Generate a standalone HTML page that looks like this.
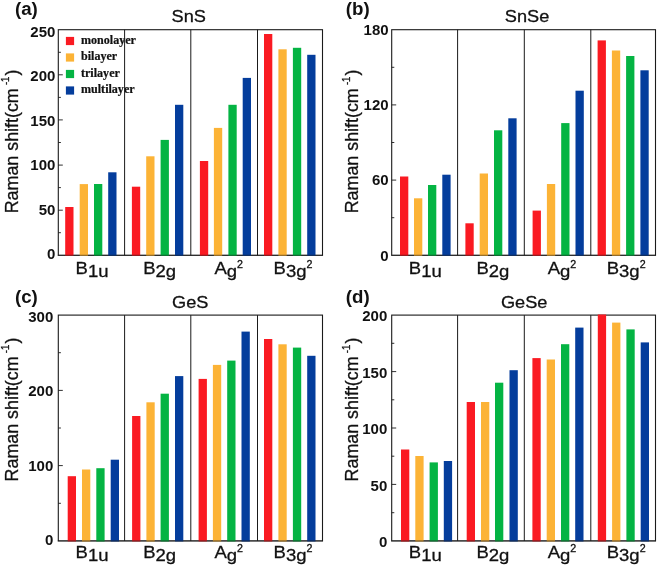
<!DOCTYPE html>
<html lang="en"><head><meta charset="utf-8"><title>Raman shift of SnS, SnSe, GeS, GeSe</title>
<style>
html,body{margin:0;padding:0;background:#fff;}
body{width:658px;height:566px;overflow:hidden;}
svg{display:block;will-change:transform;}
text{font-family:"Liberation Sans",Arial,Helvetica,sans-serif;fill:#111;}
.tag{font-weight:bold;font-size:18.7px;}
.title{font-size:17px;text-anchor:middle;}
.tick{font-weight:bold;font-size:15px;text-anchor:end;}
.yl{font-size:18.5px;}
.xl{font-size:17.3px;}
.xl,.title,.yl{stroke:#111;stroke-width:0.3px;}
.lg{font-family:"Liberation Serif","Times New Roman",serif;font-weight:bold;font-size:11.5px;stroke:#111;stroke-width:0.2px;}
</style></head><body>
<svg width="658" height="566" viewBox="0 0 658 566">
<rect width="658" height="566" fill="#fff"/>
<g><!-- panel (a) SnS -->
<rect x="58.3" y="29.7" width="264.2" height="225.6" fill="none" stroke="#1a1a1a" stroke-width="1.1"/>
<rect x="65.2" y="207.0" width="8.3" height="48.83" fill="#fa1a22"/>
<rect x="79.7" y="184.1" width="8.3" height="71.75" fill="#fcb336"/>
<rect x="94.0" y="184.0" width="8.3" height="71.84" fill="#04b443"/>
<rect x="108.2" y="172.3" width="8.3" height="83.57" fill="#043d9c"/>
<rect x="131.9" y="186.7" width="8.3" height="69.13" fill="#fa1a22"/>
<rect x="146.2" y="156.3" width="8.3" height="99.54" fill="#fcb336"/>
<rect x="160.6" y="139.9" width="8.3" height="115.97" fill="#04b443"/>
<rect x="175.0" y="104.8" width="8.3" height="151.07" fill="#043d9c"/>
<rect x="199.9" y="161.0" width="8.3" height="94.85" fill="#fa1a22"/>
<rect x="213.9" y="127.9" width="8.3" height="127.97" fill="#fcb336"/>
<rect x="228.4" y="104.8" width="8.3" height="151.07" fill="#04b443"/>
<rect x="242.7" y="77.9" width="8.3" height="177.96" fill="#043d9c"/>
<rect x="264.0" y="34.0" width="8.3" height="221.82" fill="#fa1a22"/>
<rect x="278.4" y="49.3" width="8.3" height="206.57" fill="#fcb336"/>
<rect x="292.9" y="47.8" width="8.3" height="208.01" fill="#04b443"/>
<rect x="307.2" y="54.8" width="8.3" height="201.06" fill="#043d9c"/>
<rect x="65.9" y="36.9" width="8.2" height="8.2" fill="#fa1a22"/>
<text transform="translate(81.0,43.9) scale(1.05,1)" class="lg">monolayer</text>
<rect x="65.9" y="53.4" width="8.2" height="8.2" fill="#fcb336"/>
<text transform="translate(81.0,60.4) scale(1.05,1)" class="lg">bilayer</text>
<rect x="65.9" y="69.9" width="8.2" height="8.2" fill="#04b443"/>
<text transform="translate(81.0,76.9) scale(1.05,1)" class="lg">trilayer</text>
<rect x="65.9" y="86.4" width="8.2" height="8.2" fill="#043d9c"/>
<text transform="translate(81.0,93.4) scale(1.05,1)" class="lg">multilayer</text>
<line x1="124.6" y1="29.7" x2="124.6" y2="255.3" stroke="#1a1a1a" stroke-width="1"/>
<line x1="190.8" y1="29.7" x2="190.8" y2="255.3" stroke="#1a1a1a" stroke-width="1"/>
<line x1="257.5" y1="29.7" x2="257.5" y2="255.3" stroke="#1a1a1a" stroke-width="1"/>
<text x="55.4" y="259.2" class="tick">0</text>
<line x1="58.3" y1="232.7" x2="60.9" y2="232.7" stroke="#1a1a1a" stroke-width="0.9"/>
<line x1="58.3" y1="210.2" x2="62.8" y2="210.2" stroke="#1a1a1a" stroke-width="0.9"/>
<text x="55.4" y="214.7" class="tick">50</text>
<line x1="58.3" y1="187.6" x2="60.9" y2="187.6" stroke="#1a1a1a" stroke-width="0.9"/>
<line x1="58.3" y1="165.1" x2="62.8" y2="165.1" stroke="#1a1a1a" stroke-width="0.9"/>
<text x="55.4" y="170.3" class="tick">100</text>
<line x1="58.3" y1="142.5" x2="60.9" y2="142.5" stroke="#1a1a1a" stroke-width="0.9"/>
<line x1="58.3" y1="119.9" x2="62.8" y2="119.9" stroke="#1a1a1a" stroke-width="0.9"/>
<text x="55.4" y="125.8" class="tick">150</text>
<line x1="58.3" y1="97.4" x2="60.9" y2="97.4" stroke="#1a1a1a" stroke-width="0.9"/>
<line x1="58.3" y1="74.8" x2="62.8" y2="74.8" stroke="#1a1a1a" stroke-width="0.9"/>
<text x="55.4" y="81.4" class="tick">200</text>
<line x1="58.3" y1="52.3" x2="60.9" y2="52.3" stroke="#1a1a1a" stroke-width="0.9"/>
<text x="55.4" y="36.9" class="tick">250</text>
<line x1="57.75" y1="255.3" x2="323.05" y2="255.3" stroke="#1a1a1a" stroke-width="1.1" opacity="0.5"/>
<text x="15.0" y="15.0" class="tag">(a)</text>
<text transform="translate(188.8,22.3) scale(1.07,1)" class="title">SnS</text>
<g transform="translate(17.7,213.3) rotate(-90) scale(0.966,1)"><text class="yl" x="0" y="0">Raman shift(cm</text><text class="yl" x="132.7" y="-8.5" style="font-size:10px">-1</text><text class="yl" x="142.7" y="0">)</text></g>
<text transform="translate(75.6,273.7) scale(1.07,1)" class="xl">B<tspan dy="3.0">1u</tspan></text>
<text transform="translate(143.2,273.7) scale(1.07,1)" class="xl">B<tspan dy="3.0">2g</tspan></text>
<text transform="translate(214.4,273.7) scale(1.07,1)" class="xl">A<tspan dy="3.0">g</tspan><tspan dy="-9.2" font-size="10">2</tspan></text>
<text transform="translate(273.6,273.7) scale(1.07,1)" class="xl">B<tspan dy="3.0">3g</tspan><tspan dy="-9.2" font-size="10">2</tspan></text>
</g>
<g><!-- panel (b) SnSe -->
<rect x="391.7" y="29.7" width="263.8" height="225.6" fill="none" stroke="#1a1a1a" stroke-width="1.1"/>
<rect x="400.0" y="176.5" width="8.3" height="79.38" fill="#fa1a22"/>
<rect x="414.0" y="198.3" width="8.3" height="57.58" fill="#fcb336"/>
<rect x="428.0" y="185.0" width="8.3" height="70.86" fill="#04b443"/>
<rect x="442.3" y="174.7" width="8.3" height="81.14" fill="#043d9c"/>
<rect x="465.4" y="223.3" width="8.3" height="32.51" fill="#fa1a22"/>
<rect x="479.7" y="173.5" width="8.3" height="82.39" fill="#fcb336"/>
<rect x="494.0" y="130.3" width="8.3" height="125.51" fill="#04b443"/>
<rect x="508.3" y="118.3" width="8.3" height="137.54" fill="#043d9c"/>
<rect x="532.6" y="210.6" width="8.3" height="45.29" fill="#fa1a22"/>
<rect x="546.9" y="184.0" width="8.3" height="71.86" fill="#fcb336"/>
<rect x="561.2" y="123.1" width="8.3" height="132.78" fill="#04b443"/>
<rect x="575.5" y="90.7" width="8.3" height="165.11" fill="#043d9c"/>
<rect x="597.6" y="40.4" width="8.3" height="215.50" fill="#fa1a22"/>
<rect x="611.9" y="50.5" width="8.3" height="205.34" fill="#fcb336"/>
<rect x="626.1" y="56.0" width="8.3" height="199.83" fill="#04b443"/>
<rect x="640.4" y="70.3" width="8.3" height="185.54" fill="#043d9c"/>
<line x1="457.6" y1="29.7" x2="457.6" y2="255.3" stroke="#1a1a1a" stroke-width="1"/>
<line x1="524.3" y1="29.7" x2="524.3" y2="255.3" stroke="#1a1a1a" stroke-width="1"/>
<line x1="590.8" y1="29.7" x2="590.8" y2="255.3" stroke="#1a1a1a" stroke-width="1"/>
<text x="388.6" y="260.5" class="tick">0</text>
<line x1="391.7" y1="217.7" x2="394.3" y2="217.7" stroke="#1a1a1a" stroke-width="0.9"/>
<line x1="391.7" y1="180.1" x2="396.2" y2="180.1" stroke="#1a1a1a" stroke-width="0.9"/>
<text x="388.6" y="185.2" class="tick">60</text>
<line x1="391.7" y1="142.5" x2="394.3" y2="142.5" stroke="#1a1a1a" stroke-width="0.9"/>
<line x1="391.7" y1="104.9" x2="396.2" y2="104.9" stroke="#1a1a1a" stroke-width="0.9"/>
<text x="388.6" y="110.0" class="tick">120</text>
<line x1="391.7" y1="67.3" x2="394.3" y2="67.3" stroke="#1a1a1a" stroke-width="0.9"/>
<text x="388.6" y="34.7" class="tick">180</text>
<line x1="391.15" y1="255.3" x2="656.05" y2="255.3" stroke="#1a1a1a" stroke-width="1.1" opacity="0.5"/>
<text x="345.8" y="15.0" class="tag">(b)</text>
<text transform="translate(527.0,22.3) scale(1.07,1)" class="title">SnSe</text>
<g transform="translate(358.3,213.3) rotate(-90) scale(0.966,1)"><text class="yl" x="0" y="0">Raman shift(cm</text><text class="yl" x="132.7" y="-8.5" style="font-size:10px">-1</text><text class="yl" x="142.7" y="0">)</text></g>
<text transform="translate(408.8,273.7) scale(1.07,1)" class="xl">B<tspan dy="3.0">1u</tspan></text>
<text transform="translate(476.4,273.7) scale(1.07,1)" class="xl">B<tspan dy="3.0">2g</tspan></text>
<text transform="translate(547.7,273.7) scale(1.07,1)" class="xl">A<tspan dy="3.0">g</tspan><tspan dy="-9.2" font-size="10">2</tspan></text>
<text transform="translate(606.7,273.7) scale(1.07,1)" class="xl">B<tspan dy="3.0">3g</tspan><tspan dy="-9.2" font-size="10">2</tspan></text>
</g>
<g><!-- panel (c) GeS -->
<rect x="58.3" y="315.1" width="264.2" height="225.8" fill="none" stroke="#1a1a1a" stroke-width="1.1"/>
<rect x="67.7" y="476.2" width="8.3" height="65.20" fill="#fa1a22"/>
<rect x="82.0" y="469.5" width="8.3" height="71.98" fill="#fcb336"/>
<rect x="96.3" y="468.2" width="8.3" height="73.26" fill="#04b443"/>
<rect x="110.7" y="459.7" width="8.3" height="81.76" fill="#043d9c"/>
<rect x="132.1" y="416.0" width="8.3" height="125.42" fill="#fa1a22"/>
<rect x="146.4" y="402.3" width="8.3" height="139.19" fill="#fcb336"/>
<rect x="160.6" y="393.7" width="8.3" height="147.77" fill="#04b443"/>
<rect x="175.0" y="376.1" width="8.3" height="165.31" fill="#043d9c"/>
<rect x="198.6" y="378.9" width="8.3" height="162.52" fill="#fa1a22"/>
<rect x="212.9" y="364.9" width="8.3" height="176.60" fill="#fcb336"/>
<rect x="227.2" y="360.6" width="8.3" height="180.81" fill="#04b443"/>
<rect x="241.5" y="331.6" width="8.3" height="209.87" fill="#043d9c"/>
<rect x="264.0" y="339.0" width="8.3" height="202.42" fill="#fa1a22"/>
<rect x="278.4" y="344.3" width="8.3" height="197.15" fill="#fcb336"/>
<rect x="292.9" y="347.6" width="8.3" height="193.83" fill="#04b443"/>
<rect x="307.2" y="355.8" width="8.3" height="185.63" fill="#043d9c"/>
<line x1="124.6" y1="315.1" x2="124.6" y2="540.9" stroke="#1a1a1a" stroke-width="1"/>
<line x1="190.8" y1="315.1" x2="190.8" y2="540.9" stroke="#1a1a1a" stroke-width="1"/>
<line x1="257.5" y1="315.1" x2="257.5" y2="540.9" stroke="#1a1a1a" stroke-width="1"/>
<text x="53.3" y="544.9" class="tick">0</text>
<line x1="58.3" y1="503.3" x2="60.9" y2="503.3" stroke="#1a1a1a" stroke-width="0.9"/>
<line x1="58.3" y1="465.6" x2="62.8" y2="465.6" stroke="#1a1a1a" stroke-width="0.9"/>
<text x="53.3" y="470.5" class="tick">100</text>
<line x1="58.3" y1="428.0" x2="60.9" y2="428.0" stroke="#1a1a1a" stroke-width="0.9"/>
<line x1="58.3" y1="390.4" x2="62.8" y2="390.4" stroke="#1a1a1a" stroke-width="0.9"/>
<text x="53.3" y="396.0" class="tick">200</text>
<line x1="58.3" y1="352.7" x2="60.9" y2="352.7" stroke="#1a1a1a" stroke-width="0.9"/>
<text x="53.3" y="321.6" class="tick">300</text>
<line x1="57.75" y1="540.9" x2="323.05" y2="540.9" stroke="#1a1a1a" stroke-width="1.1" opacity="0.5"/>
<text x="15.0" y="303.0" class="tag">(c)</text>
<text transform="translate(190.2,307.6) scale(1.07,1)" class="title">GeS</text>
<g transform="translate(17.7,481.4) rotate(-90) scale(0.966,1)"><text class="yl" x="0" y="0">Raman shift(cm</text><text class="yl" x="132.7" y="-8.5" style="font-size:10px">-1</text><text class="yl" x="142.7" y="0">)</text></g>
<text transform="translate(75.6,558.2) scale(1.07,1)" class="xl">B<tspan dy="3.0">1u</tspan></text>
<text transform="translate(143.2,558.2) scale(1.07,1)" class="xl">B<tspan dy="3.0">2g</tspan></text>
<text transform="translate(214.4,558.2) scale(1.07,1)" class="xl">A<tspan dy="3.0">g</tspan><tspan dy="-9.2" font-size="10">2</tspan></text>
<text transform="translate(273.6,558.2) scale(1.07,1)" class="xl">B<tspan dy="3.0">3g</tspan><tspan dy="-9.2" font-size="10">2</tspan></text>
</g>
<g><!-- panel (d) GeSe -->
<rect x="391.7" y="315.1" width="263.8" height="225.8" fill="none" stroke="#1a1a1a" stroke-width="1.1"/>
<rect x="401.0" y="449.5" width="8.3" height="92.00" fill="#fa1a22"/>
<rect x="415.3" y="456.0" width="8.3" height="85.45" fill="#fcb336"/>
<rect x="429.6" y="462.4" width="8.3" height="79.02" fill="#04b443"/>
<rect x="443.8" y="461.0" width="8.3" height="80.48" fill="#043d9c"/>
<rect x="466.7" y="402.0" width="8.3" height="139.42" fill="#fa1a22"/>
<rect x="481.0" y="402.0" width="8.3" height="139.42" fill="#fcb336"/>
<rect x="495.0" y="382.7" width="8.3" height="158.72" fill="#04b443"/>
<rect x="509.5" y="370.2" width="8.3" height="171.25" fill="#043d9c"/>
<rect x="532.4" y="358.1" width="8.3" height="183.34" fill="#fa1a22"/>
<rect x="546.7" y="359.5" width="8.3" height="181.98" fill="#fcb336"/>
<rect x="561.0" y="344.2" width="8.3" height="197.22" fill="#04b443"/>
<rect x="575.2" y="327.6" width="8.3" height="213.82" fill="#043d9c"/>
<rect x="597.8" y="314.5" width="8.3" height="226.91" fill="#fa1a22"/>
<rect x="612.1" y="322.6" width="8.3" height="218.90" fill="#fcb336"/>
<rect x="626.4" y="329.4" width="8.3" height="212.01" fill="#04b443"/>
<rect x="640.7" y="342.4" width="8.3" height="199.03" fill="#043d9c"/>
<line x1="457.6" y1="315.1" x2="457.6" y2="540.9" stroke="#1a1a1a" stroke-width="1"/>
<line x1="524.3" y1="315.1" x2="524.3" y2="540.9" stroke="#1a1a1a" stroke-width="1"/>
<line x1="590.8" y1="315.1" x2="590.8" y2="540.9" stroke="#1a1a1a" stroke-width="1"/>
<text x="387.3" y="547.1" class="tick">0</text>
<line x1="391.7" y1="512.7" x2="394.3" y2="512.7" stroke="#1a1a1a" stroke-width="0.9"/>
<line x1="391.7" y1="484.4" x2="396.2" y2="484.4" stroke="#1a1a1a" stroke-width="0.9"/>
<text x="387.3" y="490.6" class="tick">50</text>
<line x1="391.7" y1="456.2" x2="394.3" y2="456.2" stroke="#1a1a1a" stroke-width="0.9"/>
<line x1="391.7" y1="428.0" x2="396.2" y2="428.0" stroke="#1a1a1a" stroke-width="0.9"/>
<text x="387.3" y="434.2" class="tick">100</text>
<line x1="391.7" y1="399.8" x2="394.3" y2="399.8" stroke="#1a1a1a" stroke-width="0.9"/>
<line x1="391.7" y1="371.6" x2="396.2" y2="371.6" stroke="#1a1a1a" stroke-width="0.9"/>
<text x="387.3" y="377.8" class="tick">150</text>
<line x1="391.7" y1="343.3" x2="394.3" y2="343.3" stroke="#1a1a1a" stroke-width="0.9"/>
<text x="387.3" y="321.3" class="tick">200</text>
<line x1="391.15" y1="540.9" x2="656.05" y2="540.9" stroke="#1a1a1a" stroke-width="1.1" opacity="0.5"/>
<text x="345.8" y="303.0" class="tag">(d)</text>
<text transform="translate(524.2,307.6) scale(1.07,1)" class="title">GeSe</text>
<g transform="translate(358.3,481.4) rotate(-90) scale(0.966,1)"><text class="yl" x="0" y="0">Raman shift(cm</text><text class="yl" x="132.7" y="-8.5" style="font-size:10px">-1</text><text class="yl" x="142.7" y="0">)</text></g>
<text transform="translate(408.8,558.2) scale(1.07,1)" class="xl">B<tspan dy="3.0">1u</tspan></text>
<text transform="translate(476.4,558.2) scale(1.07,1)" class="xl">B<tspan dy="3.0">2g</tspan></text>
<text transform="translate(547.7,558.2) scale(1.07,1)" class="xl">A<tspan dy="3.0">g</tspan><tspan dy="-9.2" font-size="10">2</tspan></text>
<text transform="translate(606.7,558.2) scale(1.07,1)" class="xl">B<tspan dy="3.0">3g</tspan><tspan dy="-9.2" font-size="10">2</tspan></text>
</g>
</svg>
</body></html>
